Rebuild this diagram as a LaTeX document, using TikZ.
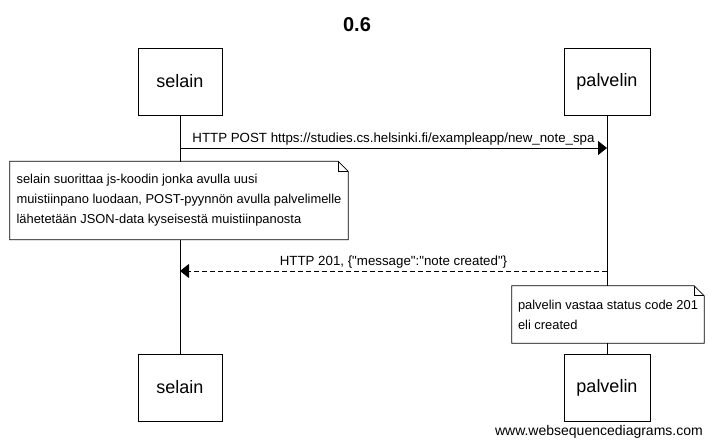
\documentclass[tikz,border=0pt]{standalone}
\usepackage{fontspec}
\setmainfont{Liberation Sans}
% same family without the TeX mapping, so straight quotes stay straight
\newfontfamily\labelfont{Liberation Sans}
\usetikzlibrary{arrows.meta,calc}
\begin{document}
\begin{tikzpicture}[x=1pt,y=-1pt,
  actor/.style={draw, line width=0.8pt, minimum width=84pt, minimum height=67pt,
    inner sep=0pt, font=\fontsize{18}{20}\selectfont},
  lifeline/.style={line width=0.8pt},
  msg/.style={line width=0.8pt, -{Triangle[length=9pt,width=14pt]}},
  reply/.style={msg, dash pattern=on 5pt off 3pt},
  msglabel/.style={font=\labelfont\fontsize{13.3}{15}\selectfont, anchor=south, inner sep=0pt},
  notebox/.style={shape=rectangle, fill=white, align=left, inner sep=0pt,
    font=\fontsize{12.9}{20}\selectfont},
  noteline/.style={line width=0.8pt}]
\useasboundingbox (0,0) rectangle (713,447);

% title
\node[font=\bfseries\fontsize{20}{24}\selectfont] (title) at (357,25) {0.6};

% participants, top and bottom
\node[actor] (s1) at (180,81.5) {selain};
\node[actor, minimum width=86pt] (p1) at (607,81.5) {palvelin};
\node[actor] (s2) at (180,387.5) {selain};
\node[actor, minimum width=86pt] (p2) at (607,387.5) {palvelin};

% lifelines
\draw[lifeline] (s1) -- (s2);
\draw[lifeline] (p1) -- (p2);

% message end points on the lifelines
\coordinate (postS) at (s1.south |- 0,148);
\coordinate (postP) at (p1.south |- 0,148);
\coordinate (respP) at (p1.south |- 0,271);
\coordinate (respS) at (s1.south |- 0,271);

% request
\draw[msg] (postS) -- (postP)
  node[msglabel, pos=0.5, yshift=2pt] (postlabel)
  {HTTP POST https://studies.cs.helsinki.fi/exampleapp/new\_note\_spa};

% note on the browser side
\node[notebox, minimum width=338pt, minimum height=78pt] (n1) at (179,200.5)
  {selain suorittaa js-koodin jonka avulla uusi\\
   muistiinpano luodaan, POST-pyynnön avulla palvelimelle\\
   lähetetään JSON-data kyseisestä muistiinpanosta};
\draw[noteline] (n1.south west) -- (n1.north west) -- ($(n1.north east)+(-10,0)$)
  -- ($(n1.north east)+(0,10)$) -- (n1.south east) -- cycle;
\draw[noteline] ($(n1.north east)+(-10,0)$) -- ($(n1.north east)+(-10,10)$)
  -- ($(n1.north east)+(0,10)$);

% response
\draw[reply] (respP) -- (respS)
  node[msglabel, pos=0.5, yshift=2pt] (resplabel)
  {HTTP 201, \{"message":"note created"\}};

% note on the server side
\node[notebox, minimum width=192pt, minimum height=57pt] (n2) at (608,314.5)
  {palvelin vastaa status code 201\\ eli created};
\draw[noteline] (n2.south west) -- (n2.north west) -- ($(n2.north east)+(-10,0)$)
  -- ($(n2.north east)+(0,10)$) -- (n2.south east) -- cycle;
\draw[noteline] ($(n2.north east)+(-10,0)$) -- ($(n2.north east)+(-10,10)$)
  -- ($(n2.north east)+(0,10)$);

% footer
\node[anchor=east, inner sep=0pt, font=\fontsize{14}{16}\selectfont] (site) at (703,432)
  {www.websequencediagrams.com};
\end{tikzpicture}
\end{document}
